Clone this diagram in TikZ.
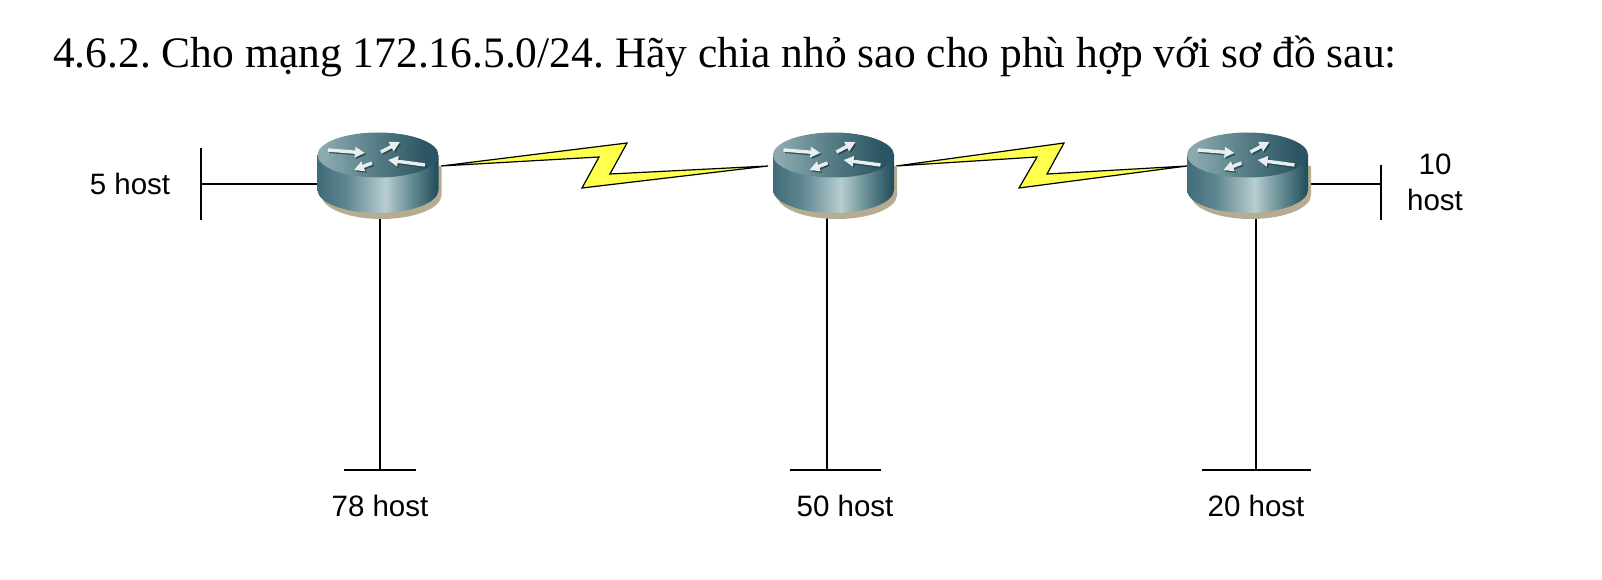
\documentclass[tikz,border=0pt]{standalone}
\usepackage{fontspec}
\setmainfont{Liberation Serif}
\newfontfamily\labelfont{Liberation Sans}
\usetikzlibrary{calc,arrows.meta}
\definecolor{boltyellow}{HTML}{FFFF4D}
\definecolor{bA}{HTML}{3F6C78}
\definecolor{bB}{HTML}{5F8791}
\definecolor{bC}{HTML}{B8CDD0}
\definecolor{bD}{HTML}{6A9097}
\definecolor{bE}{HTML}{1F4C5A}
\definecolor{tA}{HTML}{8BA9AE}
\definecolor{tB}{HTML}{5F858D}
\definecolor{tC}{HTML}{2A5562}
\definecolor{shadowtan}{HTML}{B6AC90}
\definecolor{arrowshade}{HTML}{1E3F48}
\definecolor{arrowlight}{HTML}{E8EEEE}
\pgfdeclarehorizontalshading{routerside}{100bp}{
  color(0bp)=(bA); color(25bp)=(bA); color(37bp)=(bB); color(53bp)=(bC);
  color(63bp)=(bD); color(75bp)=(bE); color(100bp)=(bE)}
\pgfdeclarehorizontalshading{routertop}{100bp}{
  color(0bp)=(tA); color(28bp)=(tA); color(45bp)=(tB); color(70bp)=(tC); color(100bp)=(tC)}
\tikzset{
  routerhold/.style={rectangle,inner sep=0pt,minimum width=121pt,minimum height=86pt},
  wire/.style={draw=black,line width=1.6pt},
  bolt/.style={draw=black,fill=boltyellow,line width=1.2pt,line join=miter},
  hostlabel/.style={anchor=base,inner sep=0pt,font=\labelfont\fontsize{29.5}{34}\selectfont},
  titletext/.style={anchor=base west,inner sep=0pt,font=\fontsize{43.5}{48}\selectfont},
  flowarrow/.style={-{Triangle[length=10pt,width=10pt]},line width=3.4pt,draw=arrowlight},
  flowshade/.style={-{Triangle[length=10pt,width=10pt]},line width=3.4pt,draw=arrowshade,opacity=.75},
  router/.pic={
    \fill[shadowtan] (-56,-10) -- (63.5,-10) -- (63.5,19) arc[start angle=0,end angle=180,x radius=60,y radius=24] -- cycle;
    \shade[shading=routerside] (-60.5,-21) -- (-60.5,14) arc[start angle=180,end angle=0,x radius=60.5,y radius=23] -- (60.5,-21) -- cycle;
    \shade[shading=routertop] (0,-21) ellipse[x radius=60.5,y radius=22.5];
    \foreach \a/\b in {{-50,-5}/{-13,-2},{3,-3}/{22,-13},{47,10}/{10,5},{-6,8}/{-24,15}}{
      \draw[flowshade] ($(\a)+(1.5,1.5)+(0,-21)$) -- ($(\b)+(1.5,1.5)+(0,-21)$);
      \draw[flowarrow] ($(\a)+(0,-21)$) -- ($(\b)+(0,-21)$);
    }
  }
}
\begin{document}
\frenchspacing
\begin{tikzpicture}[x=1pt,y=-1pt]
\useasboundingbox (0,0) rectangle (1602,580);
\node[titletext] (title) at (53,68) {4.6.2. Cho mạng 172.16.5.0/24. Hãy chia nhỏ sao cho phù hợp với sơ đồ sau:};

\node[routerhold] (r1) at (378,176) {};
\node[routerhold] (r2) at (833.5,176) {};
\node[routerhold] (r3) at (1247.5,176) {};

\coordinate (leftbar) at (201,184);
\coordinate (rightbar) at (1381,184);
\coordinate (bar1) at (380,470);
\coordinate (bar2) at (827,470);
\coordinate (bar3) at (1256,470);

\draw[wire] (leftbar) -- (r1.center |- leftbar);
\draw[wire] (r3.center |- rightbar) -- (rightbar);
\draw[wire] (201,148) -- (201,220);
\draw[wire] (1381,165) -- (1381,220);
\draw[wire] (bar1 |- r1.center) -- (bar1);
\draw[wire] (bar2 |- r2.center) -- (bar2);
\draw[wire] (bar3 |- r3.center) -- (bar3);
\draw[wire] (344,470) -- (416,470);
\draw[wire] (790,470) -- (881,470);
\draw[wire] (1202,470) -- (1311,470);

\draw[bolt] ($(r1.center)+(63,-10)$) -- (627,143) -- (610,174) -- ($(r2.center)+(-65.5,-10)$) -- (582,188) -- (599,157) -- cycle;
\draw[bolt] ($(r2.center)+(62.5,-10)$) -- (1064,143) -- (1047,174) -- ($(r3.center)+(-60.5,-10)$) -- (1019,188) -- (1037,157) -- cycle;

\pic at (r1.center) {router};
\pic at (r2.center) {router};
\pic at (r3.center) {router};

\node[hostlabel] (h5) at (130,194) {5 host};
\node[hostlabel] (h10a) at (1435,175) {10};
\node[hostlabel] (h10b) at (1435,211) {host};
\node[hostlabel] (h78) at (380,516) {78 host};
\node[hostlabel] (h50) at (845,516) {50 host};
\node[hostlabel] (h20) at (1256,516) {20 host};
\end{tikzpicture}
\end{document}
